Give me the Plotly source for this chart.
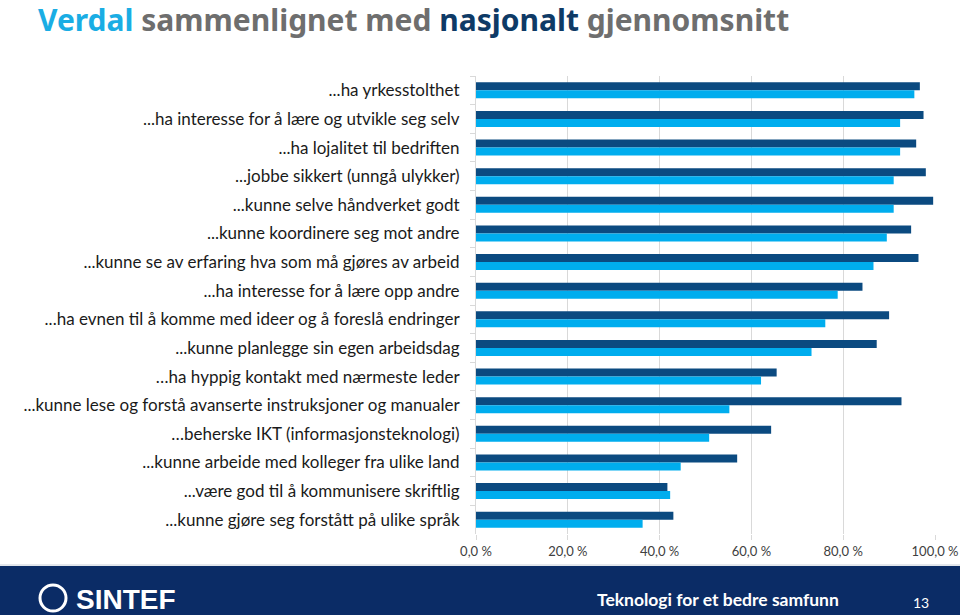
import plotly.graph_objects as go

categories = [
    "...ha yrkesstolthet",
    "...ha interesse for å lære og utvikle seg selv",
    "...ha lojalitet til bedriften",
    "...jobbe sikkert (unngå ulykker)",
    "...kunne selve håndverket godt",
    "...kunne koordinere seg mot andre",
    "...kunne se av erfaring hva som må gjøres av arbeid",
    "...ha interesse for å lære opp andre",
    "...ha evnen til å komme med ideer og å foreslå endringer",
    "...kunne planlegge sin egen arbeidsdag",
    "…ha hyppig kontakt med nærmeste leder",
    "...kunne lese og forstå avanserte instruksjoner og manualer",
    "…beherske IKT (informasjonsteknologi)",
    "...kunne arbeide med kolleger fra ulike land",
    "...være god til å kommunisere skriftlig",
    "...kunne gjøre seg forstått på ulike språk",
]
nasjonalt = [96.7, 97.5, 95.9, 98.0, 99.6, 94.8, 96.4, 84.2, 90.0, 87.3, 65.5, 92.7, 64.3, 56.9, 41.7, 43.0]
verdal = [95.5, 92.4, 92.4, 91.0, 91.0, 89.5, 86.6, 78.8, 76.1, 73.1, 62.1, 55.2, 50.8, 44.6, 42.3, 36.3]
x_ticks = [0, 20, 40, 60, 80, 100]
x_tick_labels = ["0,0 %", "20,0 %", "40,0 %", "60,0 %", "80,0 %", "100,0 %"]

L, R, T, B = 476, 25, 76, 81
PW, PH = 960 - L - R, 615 - T - B

def px(xp):
    return (xp - L) / PW

def py(yp):
    return 1 - (yp - T) / PH

fig = go.Figure()
fig.add_trace(go.Bar(y=categories, x=nasjonalt, orientation="h", name="Nasjonalt",
                     marker=dict(color="#0B4A80", line=dict(width=0))))
fig.add_trace(go.Bar(y=categories, x=verdal, orientation="h", name="Verdal",
                     marker=dict(color="#00ADEE", line=dict(width=0))))

fig.update_layout(
    width=960, height=615,
    margin=dict(l=L, r=R, t=T, b=B),
    paper_bgcolor="white", plot_bgcolor="white",
    barmode="group", bargap=0.44, bargroupgap=0,
    showlegend=False,
    font=dict(family="Lato", color="#1a1a1a"),
    xaxis=dict(range=[0, 100], tickvals=x_ticks, ticktext=x_tick_labels, automargin=False,
               showgrid=True, gridcolor="#D9D9D9", gridwidth=1, zeroline=False,
               ticks="outside", ticklen=5, tickcolor="#D9D9D9",
               tickfont=dict(size=13, color="#404040", family="Lato"), showline=False),
    yaxis=dict(autorange="reversed", showline=True, linecolor="#D9D9D9", automargin=False,
               ticks="outside", ticklen=5, tickcolor="#D9D9D9", tickson="boundaries",
               tickfont=dict(size=17, color="#1a1a1a", family="Lato"), ticklabelstandoff=12),
)

# Title
fig.add_annotation(
    xref="paper", yref="paper", x=px(36), y=py(20), xanchor="left", yanchor="middle",
    showarrow=False,
    text=("<b><span style='color:#1AADE4'>Verdal</span> "
          "<span style='color:#6E6E6E'>sammenlignet med</span> "
          "<span style='color:#0E3A66'>nasjonalt</span> "
          "<span style='color:#6E6E6E'>gjennomsnitt</span></b>"),
    font=dict(family="Noto Sans", size=30),
)

# Footer band
fig.add_shape(type="rect", xref="paper", yref="paper",
              x0=px(0), x1=px(960), y0=py(615), y1=py(566),
              fillcolor="#0B2C66", line=dict(width=0), layer="above")
fig.add_shape(type="line", xref="paper", yref="paper",
              x0=px(0), x1=px(960), y0=py(565), y1=py(565),
              line=dict(color="#C8CED8", width=1))
# SINTEF logo (decoration)
fig.add_shape(type="circle", xref="paper", yref="paper",
              x0=px(40), x1=px(66), y0=py(611), y1=py(585),
              line=dict(color="white", width=3), fillcolor="rgba(0,0,0,0)")
fig.add_annotation(xref="paper", yref="paper", x=px(74), y=py(599),
                   xanchor="left", yanchor="middle", showarrow=False,
                   text="<b>SINTEF</b>", font=dict(family="Liberation Sans", size=28, color="white"))
fig.add_annotation(xref="paper", yref="paper", x=px(718), y=py(599),
                   xanchor="center", yanchor="middle", showarrow=False,
                   text="<b>Teknologi for et bedre samfunn</b>", font=dict(family="Lato", size=17.5, color="white"))
fig.add_annotation(xref="paper", yref="paper", x=px(921), y=py(602),
                   xanchor="center", yanchor="middle", showarrow=False,
                   text="13", font=dict(family="Lato", size=14, color="white"))

fig.write_html("out.html", config={"displayModeBar": False},
               post_script="document.body.style.margin='0';document.body.style.overflow='hidden';")
